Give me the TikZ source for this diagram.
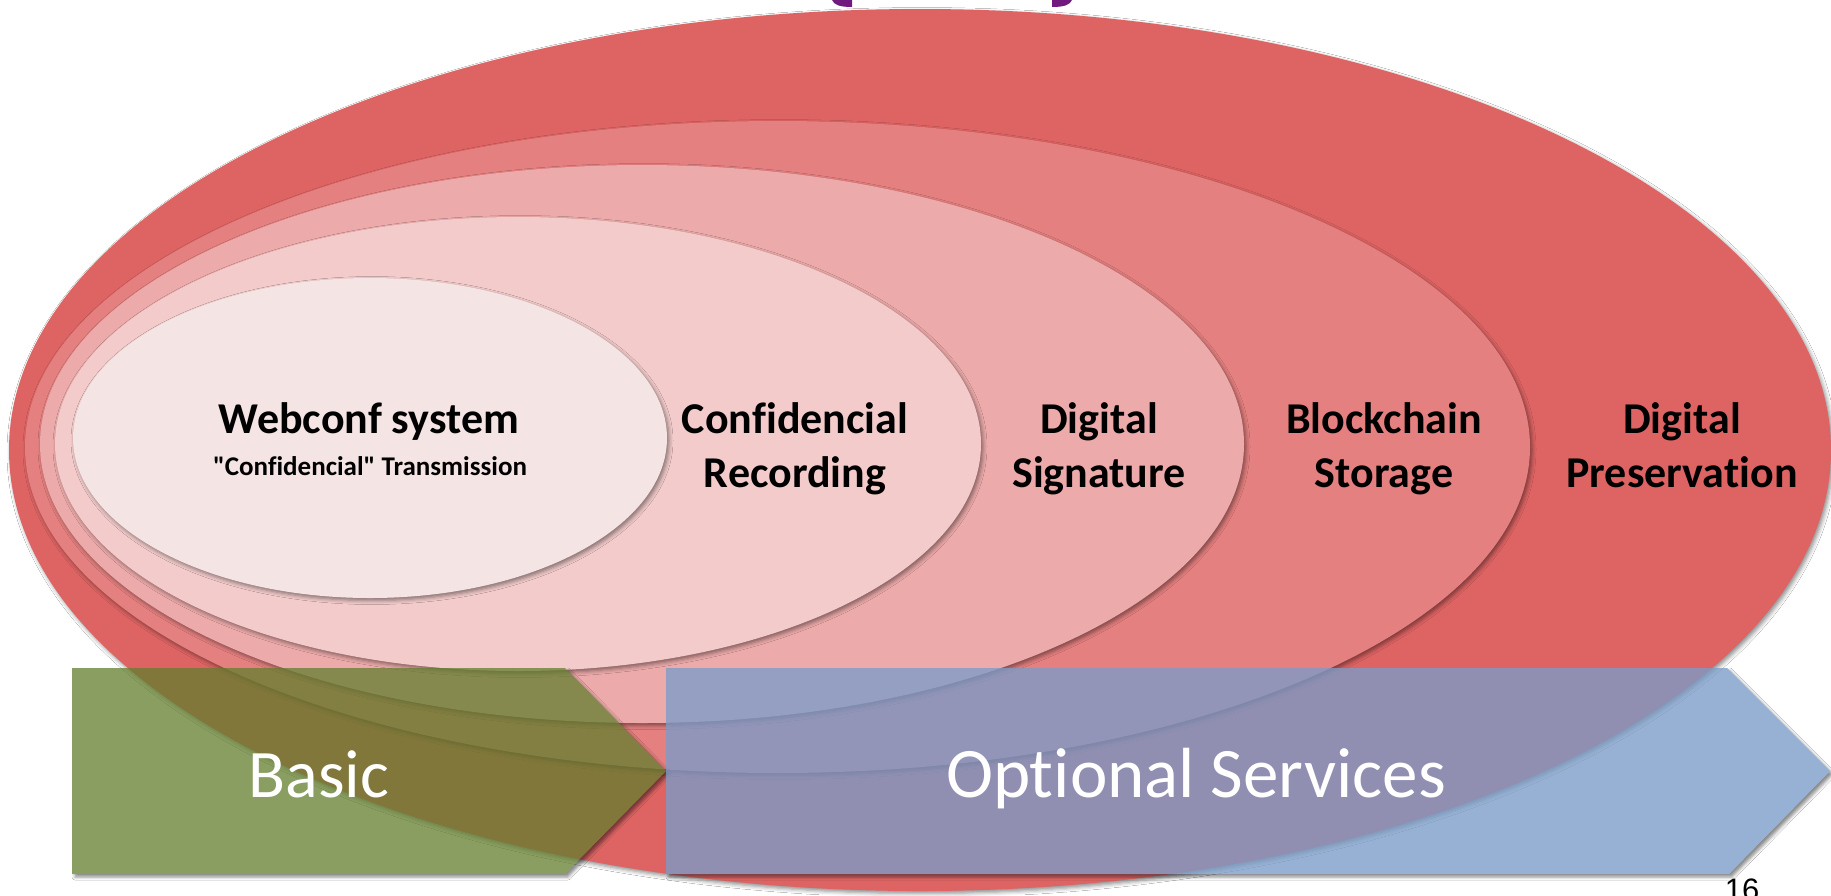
\documentclass[tikz,border=0pt]{standalone}
\usepackage{fontspec}
\setmainfont{Carlito}[Ligatures={TeXOff,NoCommon}]
\newfontfamily\arialfont{Liberation Sans}
\usetikzlibrary{shapes.geometric,shadows.blur}
\definecolor{ecol5}{RGB}{222,100,100}
\definecolor{ecol4}{RGB}{229,128,128}
\definecolor{ecol3}{RGB}{237,170,170}
\definecolor{ecol2}{RGB}{243,203,203}
\definecolor{ecol1}{RGB}{245,228,228}
\definecolor{basicgreen}{RGB}{99,126,46}
\definecolor{optblue}{RGB}{123,156,200}
\definecolor{titlepurple}{RGB}{112,26,128}
\begin{document}
\begin{tikzpicture}[x=1pt,y=-1pt,
  ell/.style={ellipse, inner sep=0pt, outer sep=0pt,
    blur shadow={shadow xshift=2pt, shadow yshift=-2.5pt, shadow blur radius=4pt, shadow opacity=45}},
  lab/.style={font=\fontsize{44}{54}\selectfont\bfseries, anchor=base, inner sep=0pt, text=black},
  sublab/.style={font=\fontsize{27}{32}\selectfont\bfseries, anchor=base, inner sep=0pt, text=black},
  arrlab/.style={anchor=base, inner sep=0pt, text=white},
  arrshadow/.style={blur shadow={shadow xshift=3pt, shadow yshift=-3pt, shadow blur radius=3pt, shadow opacity=45}}]
\useasboundingbox (0,0) rectangle (1831,895);
\fill[white] (0,0) rectangle (1831,895);
% partial title glyphs
\fill[titlepurple] (832,0) .. controls (834,5) and (840,7) .. (852,7) -- (852,0) -- cycle;
\fill[titlepurple] (1072,0) .. controls (1070,5) and (1064,7) .. (1052,7) -- (1052,0) -- cycle;
% nested ellipses
\node[ell, fill=ecol5, minimum width=1822pt, minimum height=882pt] (e5) at (920,450) {};
\node[ell, fill=ecol4, minimum width=1505pt, minimum height=652pt] (e4) at (777.5,447) {};
\node[ell, fill=ecol3, minimum width=1204pt, minimum height=558pt] (e3) at (642,444) {};
\node[ell, fill=ecol2, minimum width=926pt, minimum height=454pt] (e2) at (518,444) {};
\node[ell, fill=ecol1, minimum width=594pt, minimum height=320pt] (e1) at (370,438) {};
% labels
\node[lab] (t1a) at (369,433) {Webconf system};
\node[sublab] (t1b) at (370,475) {"Confidencial" Transmission};
\node[lab] (t2a) at (795,433) {Confidencial};
\node[lab] (t2b) at (795,487) {Recording};
\node[lab] (t3a) at (1099,433) {Digital};
\node[lab] (t3b) at (1099,487) {Signature};
\node[lab] (t4a) at (1384,433) {Blockchain};
\node[lab] (t4b) at (1384,487) {Storage};
\node[lab] (t5a) at (1682,433) {Digital};
\node[lab] (t5b) at (1682,487) {Preservation};
% arrow shadows (outside the arrows only)
\begin{scope}[even odd rule]
  \clip (-10,-10) rectangle (1850,910)
    (72,668) -- (565,668) -- (666,771) -- (565,874) -- (72,874) -- cycle;
  \path[arrshadow] (72,668) -- (565,668) -- (666,771) -- (565,874) -- (72,874) -- cycle;
\end{scope}
\begin{scope}[even odd rule]
  \clip (-10,-10) rectangle (1850,910)
    (666,668) -- (1727,668) -- (1830,771) -- (1729,874) -- (666,874) -- cycle;
  \path[arrshadow] (666,668) -- (1727,668) -- (1830,771) -- (1729,874) -- (666,874) -- cycle;
\end{scope}
% arrows
\fill[basicgreen, fill opacity=0.75] (72,668) -- (565,668) -- (666,771) -- (565,874) -- (72,874) -- cycle;
\fill[optblue, fill opacity=0.78] (666,668) -- (1727,668) -- (1830,771) -- (1729,874) -- (666,874) -- cycle;
\node[arrlab, font=\fontsize{68}{80}\selectfont] (basic) at (319,797) {Basic};
\node[arrlab, font=\fontsize{71}{80}\selectfont] (opt) at (1196,797) {Optional Services};
% page number
\node[anchor=base, inner sep=0pt, font=\arialfont\fontsize{31}{36}\selectfont] (pnum) at (1742,900) {16};
\end{tikzpicture}
\end{document}
